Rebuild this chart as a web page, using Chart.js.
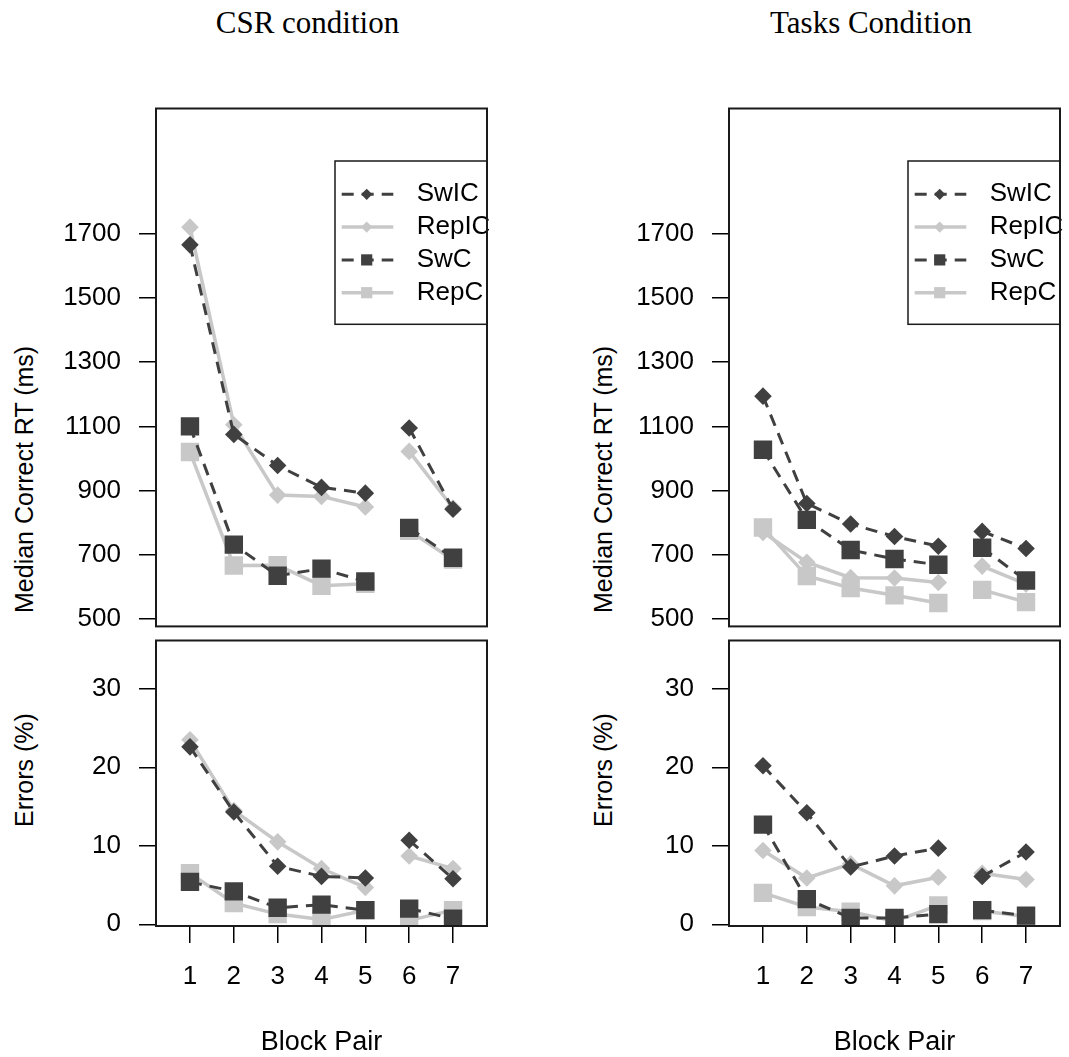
<!DOCTYPE html>
<html><head><meta charset="utf-8">
<script src="https://cdn.jsdelivr.net/npm/chart.js@4.4.1/dist/chart.umd.min.js"></script>
<style>
html,body{margin:0;padding:0;background:#fff;width:1069px;height:1057px;overflow:hidden;position:relative;}
canvas{position:absolute;}
.t{position:absolute;white-space:nowrap;color:#000;}
.cond{font-family:'Liberation Serif','Times New Roman',serif;font-size:31px;line-height:31px;width:400px;text-align:center;top:7px;}
.yt{font-family:'Liberation Sans',Arial,sans-serif;font-size:25px;line-height:25px;transform:rotate(-90deg);transform-origin:0 0;}
</style></head><body>
<div class="t cond" style="left:107.5px">CSR condition</div>
<div class="t cond" style="left:671px">Tasks Condition</div>
<div class="t yt" style="left:12px;top:613px">Median Correct RT (ms)</div>
<div class="t yt" style="left:12px;top:827px">Errors (%)</div>
<div class="t yt" style="left:591px;top:613px">Median Correct RT (ms)</div>
<div class="t yt" style="left:591px;top:827px">Errors (%)</div>
<canvas id="rtL" width="500" height="660" style="left:0;top:0"></canvas>
<canvas id="erL" width="500" height="457" style="left:0;top:600px"></canvas>
<canvas id="rtR" width="500" height="660" style="left:573px;top:0"></canvas>
<canvas id="erR" width="500" height="457" style="left:573px;top:600px"></canvas>
<script>
// ---- data ----
const blocks = [1, 2, 3, 4, 5, 6, 7];
const xTickValues = [1, 2, 3, 4, 5, 6, 7];
const rtTickValues = [500, 700, 900, 1100, 1300, 1500, 1700];
const errTickValues = [0, 10, 20, 30];
const seriesNames = ['SwIC', 'RepIC', 'SwC', 'RepC'];

// CSR condition - median correct RT (ms)
const csrRT_SwIC  = [1665, 1075, 978, 910, 892, 1095, 842];
const csrRT_RepIC = [1720, 1105, 886, 882, 849, 1022, 846];
const csrRT_SwC   = [1100, 732, 635, 657, 617, 784, 691];
const csrRT_RepC  = [1020, 667, 668, 604, 610, 775, 685];
// CSR condition - errors (%)
const csrErr_SwIC  = [22.6, 14.3, 7.4, 6.1, 5.9, 10.7, 5.8];
const csrErr_RepIC = [23.5, 14.5, 10.5, 7.1, 4.7, 8.7, 7.1];
const csrErr_SwC   = [5.4, 4.2, 2.1, 2.5, 1.8, 2.0, 0.7];
const csrErr_RepC  = [6.5, 2.7, 1.3, 0.6, 1.8, 0.5, 1.8];
// Tasks condition - median correct RT (ms)
const taskRT_SwIC  = [1194, 860, 796, 757, 727, 773, 720];
const taskRT_RepIC = [770, 677, 629, 628, 614, 665, 609];
const taskRT_SwC   = [1027, 809, 715, 687, 669, 722, 620];
const taskRT_RepC  = [785, 634, 597, 574, 550, 591, 553];
// Tasks condition - errors (%)
const taskErr_SwIC  = [20.2, 14.2, 7.3, 8.7, 9.7, 6.1, 9.2];
const taskErr_RepIC = [9.4, 5.9, 7.7, 4.9, 6.0, 6.5, 5.7];
const taskErr_SwC   = [12.7, 3.2, 0.8, 0.8, 1.3, 1.8, 1.1];
const taskErr_RepC  = [4.0, 2.2, 1.6, 0.4, 2.4, 1.7, 1.0];

// ---- styles ----
const DARK = '#404040', LIGHT = '#c8c8c8';
const FAM = "'Liberation Sans', Arial, sans-serif";
const styles = {
  SwIC:  {color: DARK,  dash: [12, 8], point: 'rectRot', r: 8.8, width: 3,   order: 0},
  RepIC: {color: LIGHT, dash: [],      point: 'rectRot', r: 8.8, width: 3.5, order: 1},
  SwC:   {color: DARK,  dash: [12, 8], point: 'rect',    r: 13,  width: 3,   order: 0},
  RepC:  {color: LIGHT, dash: [],      point: 'rect',    r: 13,  width: 3.5, order: 1}
};

function makeDatasets(arrays) {
  return seriesNames.map((name, k) => {
    const st = styles[name];
    return {
      label: name,
      data: arrays[k].map((v, i) => ({x: blocks[i], y: v})),
      borderColor: st.color, backgroundColor: st.color,
      borderWidth: st.width, borderDash: st.dash,
      pointStyle: st.point, pointRadius: st.r, pointHoverRadius: st.r,
      pointBackgroundColor: st.color, pointBorderWidth: 0,
      tension: 0, clip: 0, order: st.order,
      segment: {borderColor: c => c.p0DataIndex === 4 ? 'rgba(0,0,0,0)' : undefined}
    };
  });
}

const boxPlugin = {
  id: 'box',
  afterDraw(chart) {
    const {ctx, chartArea: a} = chart;
    ctx.save();
    ctx.strokeStyle = '#1a1a1a'; ctx.lineWidth = 2; ctx.setLineDash([]);
    ctx.strokeRect(a.left, a.top, a.right - a.left, a.bottom - a.top);
    ctx.restore();
  }
};

const legendPlugin = {
  id: 'rLegend',
  afterDraw(chart) {
    const {ctx, chartArea: a} = chart;
    const L = a.left + 179, T = a.top + 52.5, B = a.top + 215.8, R = a.right;
    ctx.save();
    ctx.fillStyle = '#fff'; ctx.fillRect(L, T, R - L, B - T);
    ctx.strokeStyle = '#1a1a1a'; ctx.lineWidth = 1.5; ctx.setLineDash([]);
    ctx.strokeRect(L, T, R - L, B - T);
    seriesNames.forEach((name, i) => {
      const st = styles[name];
      const y = T + 33.3 + i * 32.8;
      ctx.strokeStyle = st.color; ctx.lineWidth = st.width; ctx.setLineDash(st.dash);
      ctx.beginPath(); ctx.moveTo(L + 6.7, y); ctx.lineTo(L + 58.3, y); ctx.stroke();
      ctx.setLineDash([]);
      ctx.fillStyle = st.color;
      const mx = L + 31.7, s = 5.6;
      ctx.beginPath();
      if (st.point === 'rectRot') {
        ctx.moveTo(mx, y - s); ctx.lineTo(mx + s, y); ctx.lineTo(mx, y + s); ctx.lineTo(mx - s, y);
      } else {
        ctx.rect(mx - s, y - s, 2 * s, 2 * s);
      }
      ctx.closePath(); ctx.fill();
      ctx.fillStyle = '#000'; ctx.font = '26px ' + FAM;
      ctx.textBaseline = 'middle'; ctx.textAlign = 'left';
      ctx.fillText(name, L + 81.7, y);
    });
    ctx.restore();
  }
};

function makeChart(id, arrays, isRT) {
  const yTicks = isRT ? rtTickValues : errTickValues;
  return new Chart(document.getElementById(id), {
    type: 'line',
    data: {datasets: makeDatasets(arrays)},
    plugins: isRT ? [legendPlugin, boxPlugin] : [boxPlugin],
    options: {
      responsive: false, animation: false, maintainAspectRatio: false,
      layout: {padding: isRT ? {top: 108.5, left: 0, right: 7.5, bottom: 19.5}
                             : {top: 40.5, left: 0, right: 7.5, bottom: 0}},
      plugins: {legend: {display: false}, tooltip: {enabled: false}},
      events: [],
      scales: {
        x: {
          type: 'linear', min: 0.225, max: 7.775, display: !isRT,
          afterBuildTicks: s => { s.ticks = xTickValues.map(v => ({value: v})); },
          afterFit: s => { s.height = isRT ? 0 : 131; },
          grid: {drawOnChartArea: false, drawTicks: true, tickLength: 17, color: '#000', lineWidth: 1.5},
          border: {display: false},
          ticks: {padding: 18, color: '#000', font: {family: FAM, size: 26}, autoSkip: false, maxRotation: 0,
                  callback: v => String(v)},
          title: {display: true, text: 'Block Pair', color: '#000', padding: 0,
                  font: {family: FAM, size: 27, lineHeight: 1.04}}
        },
        y: {
          type: 'linear',
          min: isRT ? 477.3 : -0.217, max: isRT ? 2089.4 : 36.15,
          afterBuildTicks: s => { s.ticks = yTicks.map(v => ({value: v})); },
          afterFit: s => { s.width = 156; },
          grid: {drawOnChartArea: false, drawTicks: true, tickLength: 17, color: '#000', lineWidth: 1.5},
          border: {display: false},
          ticks: {padding: 18, color: '#000', font: {family: FAM, size: 26}, autoSkip: false,
                  callback: v => String(v)}
        }
      }
    }
  });
}

makeChart('rtL', [csrRT_SwIC, csrRT_RepIC, csrRT_SwC, csrRT_RepC], true);
makeChart('erL', [csrErr_SwIC, csrErr_RepIC, csrErr_SwC, csrErr_RepC], false);
makeChart('rtR', [taskRT_SwIC, taskRT_RepIC, taskRT_SwC, taskRT_RepC], true);
makeChart('erR', [taskErr_SwIC, taskErr_RepIC, taskErr_SwC, taskErr_RepC], false);
</script>
</body></html>
